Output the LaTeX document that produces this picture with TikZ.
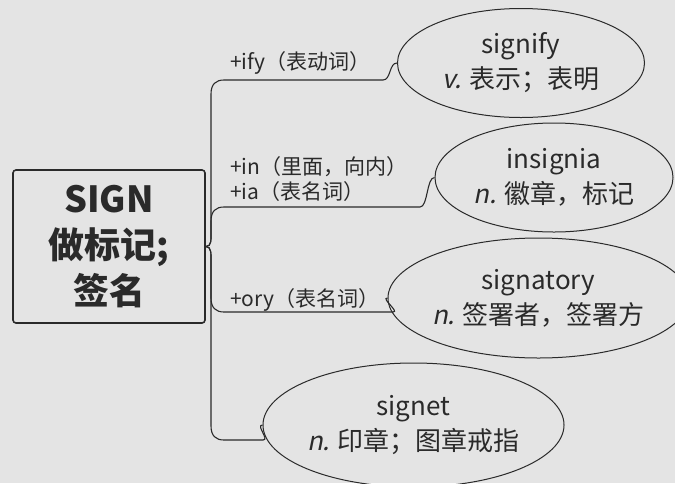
\documentclass[tikz,border=0pt]{standalone}
\usepackage{fontspec}
\setmainfont{Noto Sans CJK SC}[AutoFakeSlant=0.2]
\usetikzlibrary{shapes.geometric, positioning}
\definecolor{paper}{HTML}{E4E4E4}
\definecolor{ink}{HTML}{2A2A2A}
\tikzstyle{rootbox} = [rectangle, rounded corners=3pt, draw=ink, line width=1.6pt,
                       minimum width=192pt, minimum height=153pt, align=center,
                       text=ink, font=\fontsize{36}{46}\selectfont\bfseries]
\tikzstyle{word}    = [ellipse, draw=ink, line width=1pt, align=center, inner sep=0pt,
                       text=ink, font=\fontsize{26}{35}\selectfont]
\tikzstyle{affix}   = [anchor=west, align=left, inner sep=0pt, text=ink,
                       font=\fontsize{21}{25}\selectfont]
\tikzstyle{branch}  = [draw=ink, line width=1.1pt]

\begin{document}
\begin{tikzpicture}[x=1pt, y=-1pt]

  \useasboundingbox[fill=paper] (0,0) rectangle (675,483);

  %% Root word
  \node[rootbox] (root) at (109,246.5) {SIGN\\做标记;\\签名};

  %% Derived words
  \node[word, minimum width=247pt, minimum height=109pt] (signify) at (521,63)
        {signify\\\textit{v.} 表示；表明};
  \node[word, minimum width=238pt, minimum height=109pt] (insignia) at (554,177.5)
        {insignia\\\textit{n.} 徽章，标记};
  \node[word, minimum width=267pt, minimum height=120pt] (signatory) at (538.5,298)
        {signatory\\\textit{n.} 签署者，签署方};
  \node[word, minimum width=273pt, minimum height=124pt] (signet) at (413.5,425)
        {signet\\\textit{n.} 印章；图章戒指};

  %% Affixes
  \node[affix] (ify) at (230,63) {+ify（表动词）};
  \node[affix] (inia) at (230,179.5) {+in（里面，向内）\\+ia（表名词）};
  \node[affix] (ory) at (230,300) {+ory（表名词）};

  %% Branches
  \draw[branch] (root.east) .. controls +(6,0) and +(0,10) .. (211,230) -- (211,94)
        .. controls +(0,-10) and +(-8,0) .. (224,80) -- (383,80)
        .. controls +(8,0) and +(-8,0) .. (signify.west);
  \draw[branch] (root.east) .. controls +(6,0) and +(0,10) .. (211,230) -- (211,221)
        .. controls +(0,-10) and +(-8,0) .. (224,207) -- (420,207)
        .. controls +(8,0) and +(-8,0) .. (insignia.west);
  \draw[branch] (root.east) .. controls +(6,0) and +(0,-10) .. (211,264) -- (211,298)
        .. controls +(0,10) and +(-8,0) .. (224,312) -- (393,312)
        .. controls +(7,0) and +(-7,0) .. (signatory.west);
  \draw[branch] (root.east) .. controls +(6,0) and +(0,-10) .. (211,264) -- (211,426)
        .. controls +(0,10) and +(-8,0) .. (224,440) -- (263,440)
        .. controls +(7,0) and +(-7,0) .. (signet.west);

\end{tikzpicture}
\end{document}
